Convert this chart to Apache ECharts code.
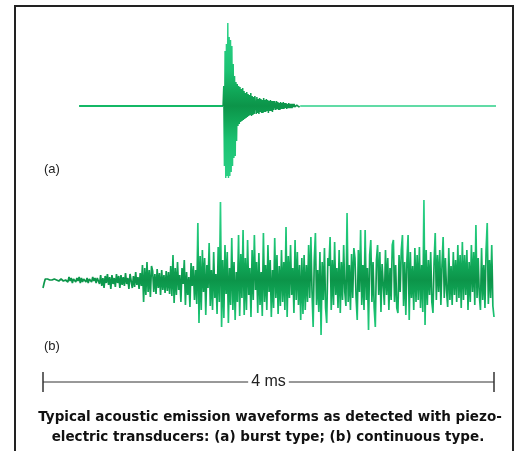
<!DOCTYPE html>
<html><head><meta charset="utf-8">
<script src="https://cdn.jsdelivr.net/npm/echarts@6/dist/echarts.min.js"></script>
<style>html,body{margin:0;padding:0;background:#fff}#c{width:521px;height:451px}</style>
</head><body><div id="c"></div>
<script>
// ---- Data (time in microseconds, amplitude in arbitrary units) ----
const scaleBarMs = 4;                 // scale bar length, ms
const burstFlatLeft  = [[320, 0], [1597, 0]];
const burstStartUs = 1597;            // onset of burst (a)
const burstStepUs  = 6;               // sample interval of burst trace
const burstAmp = [
  0,20,-60,55,-72,62,-70,83,-72,69,-70,66,-66,60,-60,42,-52,30,-50,24,-35,22,-20,
  20,-18,19,-16,17,-15,18,-14,15,-13,
  13,-12,14,-11,12,-10,11,-9,13,-10,10,-9,9,-8,10,
  8,-8,9,-7,7,-8,8,-6,7,-7,6,-7,8,-6,6,-6,7,-5,6,-7,5,-5,6,-5,5,-6,5,-4,5,
  4,-4,5,-3,4,-4,3,-4,4,-3,3,-3,4,-3,3,-2,3,-3,2,-2,3,-2,2,-2,2,-2,2,-1,2,-1,1,-1,1,-1,1,-1,0
];
const burstFlatRight = [[2281, 0], [4053, 0]];

// continuous emission (b): 400 samples spanning 0..4 ms
const continuousAmp = [
  -8,-3,1,0,1,-1,0,1,0,-1,1,0,0,1,-1,0,1,0,-1,1,0,
  2,-2,3,-1,2,-3,1,3,-2,2,-1,3,-3,2,-2,1,3,-2,2,-3,1,2,-2,3,-1,2,-3,2,
  3,-4,5,-6,2,-8,4,-3,6,-5,3,-9,5,-4,2,-7,6,-3,4,-8,5,-5,3,-6,7,-4,2,-9,6,
  6,-8,4,-7,8,-5,3,-9,7,-6,
  15,-22,12,-15,18,-12,10,-17,14,
  9,-12,6,-14,11,-8,7,-15,10,-10,5,-13,9,-11,8,-14,
  14,-16,25,-23,12,-15,
  18,-10,5,-22,12,-4,20,-25,8,-15,3,-27,17,-6,14,-20,10,-24,
  57,-43,24,-30,
  30,-12,22,-35,15,-8,37,-26,10,-30,28,-18,6,-34,33,-22,
  78,-47,
  20,-38,35,-14,28,-43,12,-25,42,-30,18,-40,8,-22,45,-36,26,-18,
  50,-35,
  22,-30,40,-15,12,-37,30,-20,45,-10,18,-33,27,-25,8,-36,47,-22,15,-30,35,-12,20,-37,10,-28,42,-18,25,-34,14,-26,
  30,-22,18,-30,53,-37,24,-18,35,-15,12,-33,40,-20,28,-25,15,-40,22,-34,
  25,-30,15,-22,35,-18,43,-12,-47,20,47,-25,10,-32,28,-55,18,-20,32,-28,-43,22,14,43,-30,
  20,-25,38,-15,12,-28,30,-33,18,-20,35,-12,-26,67,-22,15,-30,26,-18,32,
  22,-18,-40,30,-12,50,-25,15,-30,50,-20,12,-50,25,40,-22,18,-28,-47,20,35,-15,28,-32,16,
  18,-25,30,-15,22,-30,12,-20,35,40,-22,15,-28,-33,25,-12,30,45,-26,18,-35,20,45,-40,28,-18,14,-30,32,-22,
  25,-20,33,-28,15,-32,80,-45,30,-25,
  20,-15,28,-22,-33,18,47,-20,25,-12,30,-25,15,43,-18,22,-10,-27,32,-20,14,-25,28,-15,20,-22,35,-18,25,-28,
  38,-20,25,-15,30,-30,18,-22,35,-12,28,-25,55,-18,22,-15,-30,32,-20,15,-28,30,57,-24,20,-18,35,-26,-37
];
const labels = ['(a)', '(b)'];
const scaleLabel = '4 ms';
const caption = [
  'Typical acoustic emission waveforms as detected with piezo-',
  'electric transducers: (a) burst type; (b) continuous type.'
];

// ---- Build ----
const GREEN = '#14b866';
const GRID_A = {left: 43, width: 451, top: 19, height: 174};
const GRID_B = {left: 43, width: 451, top: 193, height: 174};
const GRID_S = {left: 43, width: 451, top: 372, height: 20};
const grad = g => new echarts.graphic.LinearGradient(0, g.top, 0, g.top + g.height, [
  {offset: 0, color: '#2fd58c'}, {offset: 0.3, color: '#1bc272'},
  {offset: 0.42, color: '#10a657'}, {offset: 0.5, color: '#0c9449'},
  {offset: 0.58, color: '#10a657'}, {offset: 0.7, color: '#1bc272'},
  {offset: 1, color: '#2fd58c'}
], true);
const spanUs = scaleBarMs * 1000;
const burstData = burstAmp.map((v, i) => [burstStartUs + i * burstStepUs, v]);
const dtB = spanUs / (continuousAmp.length - 1);
const contData = continuousAmp.map((v, i) => [i * dtB, v]);

const chart = echarts.init(document.getElementById('c'), null, {renderer: 'canvas'});
const xAx = i => ({type: 'value', gridIndex: i, min: 0, max: spanUs, show: false});
const yAx = (i, m) => ({type: 'value', gridIndex: i, min: -m, max: m, show: false});
const line = (name, gi, data, w, color, z) => ({
  name, type: 'line', xAxisIndex: gi, yAxisIndex: gi, data, showSymbol: false,
  symbol: 'none', clip: false, lineStyle: {width: w, color}, silent: true, z: z || 2
});

chart.setOption({
  animation: false,
  backgroundColor: '#fff',
  grid: [GRID_A, GRID_B, GRID_S],
  xAxis: [xAx(0), xAx(1), xAx(2)],
  yAxis: [yAx(0, 87), yAx(1, 87), yAx(2, 1)],
  series: [
    line('a-left', 0, burstFlatLeft, 2, GREEN),
    line('a-burst', 0, burstData, 1.5, grad(GRID_A)),
    line('a-right', 0, burstFlatRight, 1.5, '#2ccf88'),
    line('b', 1, contData, 1.7, grad(GRID_B)),
    line('scale', 2, [[0, 0], [spanUs, 0]], 1, '#333'),
    line('tickL', 2, [[0, -1], [0, 1]], 1.5, '#333'),
    line('tickR', 2, [[spanUs, -1], [spanUs, 1]], 1.5, '#333')
  ],
  graphic: [
    {id: 'frame', type: 'rect', shape: {x: 15, y: 6, width: 498, height: 470},
     style: {fill: 'none', stroke: '#222', lineWidth: 2}, silent: true},
    {id: 'labA', type: 'text', left: 44, top: 163, style: {text: labels[0], font: '13px "Liberation Sans", Arial, sans-serif', fill: '#222'}},
    {id: 'labB', type: 'text', left: 44, top: 340, style: {text: labels[1], font: '13px "Liberation Sans", Arial, sans-serif', fill: '#222'}},
    {id: 'cap1', type: 'text', x: 270, y: 417, style: {text: caption[0], textAlign: 'center', textVerticalAlign: 'middle',
      font: 'bold 13.5px "DejaVu Sans", sans-serif', fill: '#111'}},
    {id: 'cap2', type: 'text', x: 268, y: 437, style: {text: caption[1], textAlign: 'center', textVerticalAlign: 'middle',
      font: 'bold 13.5px "DejaVu Sans", sans-serif', fill: '#111'}}
  ]
});

// scale-bar label placed at the bar's midpoint through the axis scale
const mid = chart.convertToPixel({gridIndex: 2}, [spanUs / 2, 0]);
chart.setOption({
  graphic: [{
    id: 'scaleLab', type: 'text', x: mid[0], y: mid[1], z: 100,
    style: {text: scaleLabel, textAlign: 'center', textVerticalAlign: 'middle',
      font: '16px "Liberation Sans", Arial, sans-serif', fill: '#222',
      backgroundColor: '#fff', padding: [1, 3]}
  }]
});
</script></body></html>
